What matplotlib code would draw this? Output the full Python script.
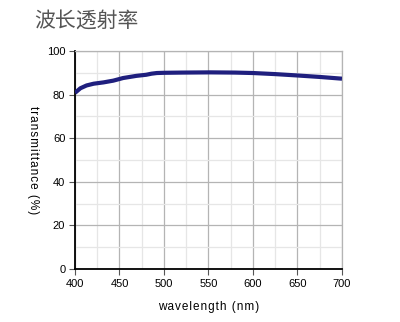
import numpy as np
import matplotlib
matplotlib.use('Agg')
import matplotlib.pyplot as plt

# transmission curve
wavelength = [400, 402, 406, 413, 421, 432, 443, 454, 469, 480, 486, 492,
              500, 520, 552, 580, 600, 625, 649, 675, 700]
transmit = [80.8, 81.5, 82.9, 84.2, 85.0, 85.6, 86.4, 87.6, 88.6, 89.1, 89.6, 89.9,
            90.0, 90.1, 90.2, 90.1, 89.9, 89.4, 88.8, 88.1, 87.3]
x_ticks = [400, 450, 500, 550, 600, 650, 700]
y_ticks = [0, 20, 40, 60, 80, 100]

plt.rcParams['font.family'] = ['Liberation Sans', 'DejaVu Sans']

fig = plt.figure(figsize=(4, 3.22), dpi=100)
ax = fig.add_axes([0.1875, 0.1646, 0.6675, 0.677])

ax.plot(wavelength, transmit, color='#1f1f7e', lw=3, solid_capstyle='butt',
        solid_joinstyle='round', zorder=3)

ax.set_xlim(400, 700)
ax.set_ylim(0, 100)
ax.set_xticks(x_ticks)
ax.set_yticks(y_ticks)
ax.set_xticks(np.arange(425, 700, 50), minor=True)
ax.set_yticks(np.arange(10, 100, 20), minor=True)
ax.grid(which='major', color='#b4b4b4', lw=0.9)
ax.grid(which='minor', color='#e6e6e6', lw=0.9)
ax.tick_params(which='minor', length=0)
ax.tick_params(which='major', length=4, width=0.8, color='#555555', labelsize=8, pad=3)

for s in ['top', 'right']:
    ax.spines[s].set_color('#b4b4b4')
    ax.spines[s].set_linewidth(0.9)
for s in ['left', 'bottom']:
    ax.spines[s].set_color('black')
    ax.spines[s].set_linewidth(1.3)

hs = '\u200a'
ax.set_xlabel(hs.join('wavelength (nm)'), fontsize=8.5, labelpad=9)
ax.set_ylabel(hs.join('transmittance (%)'), fontsize=8.5, rotation=270,
              va='center', ha='center')
ax.yaxis.set_label_coords(-0.157, 0.5)

fig.text(0.085, 0.935, '波长透射率', fontsize=15, color='#555555',
         family=['Noto Sans CJK SC', 'DejaVu Sans'], va='center', ha='left')

fig.savefig('out.png', dpi=100)
